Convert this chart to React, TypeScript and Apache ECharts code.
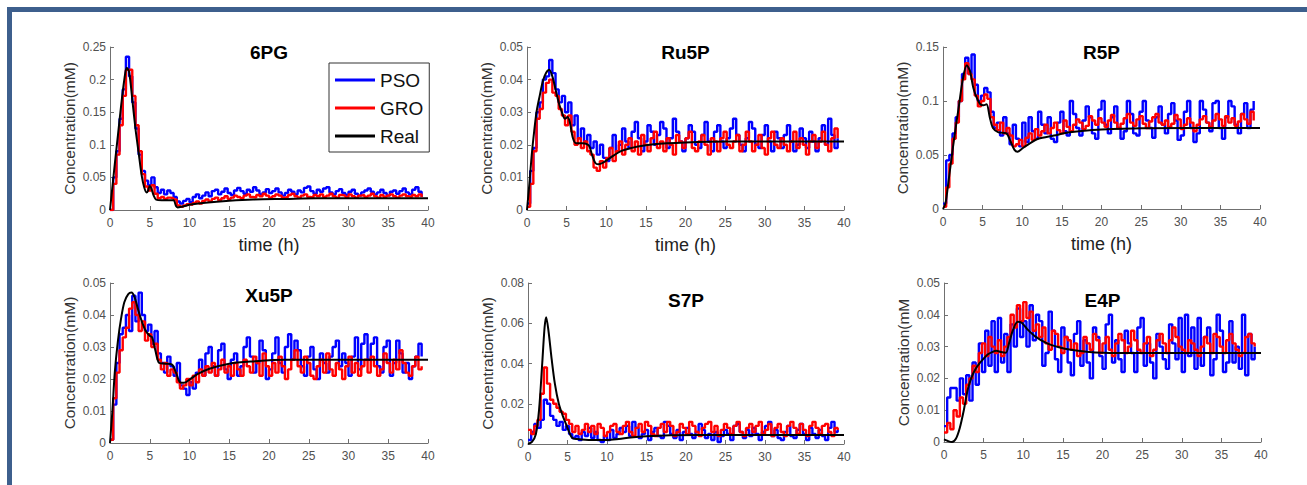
import React, { useEffect, useRef } from "react";
import * as echarts from "echarts";

const T = [0,0.4,0.8,1.2,1.6,2,2.4,2.8,3.2,3.6,4,4.4,4.8,5.2,5.6,6,6.4,6.8,7.2,7.6,8,8.4,8.8,9.2,9.6,10,10.4,10.8,11.2,11.6,12,12.4,12.8,13.2,13.6,14,14.4,14.8,15.2,15.6,16,16.4,16.8,17.2,17.6,18,18.4,18.8,19.2,19.6,20,20.4,20.8,21.2,21.6,22,22.4,22.8,23.2,23.6,24,24.4,24.8,25.2,25.6,26,26.4,26.8,27.2,27.6,28,28.4,28.8,29.2,29.6,30,30.4,30.8,31.2,31.6,32,32.4,32.8,33.2,33.6,34,34.4,34.8,35.2,35.6,36,36.4,36.8,37.2,37.6,38,38.4,38.8,39.2];

const SERIES_NAMES = ["PSO", "GRO", "Real"];
const X_TICKS = { min: 0, max: 40, step: 5 };

// ---- 6PG ----
const PSO_6PG = [
  0,0.05,0.09,0.14,0.185,0.235,0.205,0.165,0.125,0.085,
  0.06,0.045,0.038,0.05,0.035,0.026,0.031,0.024,0.03,0.026,
  0.02,0.013,0.01,0.014,0.017,0.012,0.02,0.024,0.018,0.022,
  0.027,0.021,0.029,0.031,0.024,0.028,0.033,0.026,0.023,0.03,
  0.034,0.029,0.025,0.031,0.028,0.035,0.03,0.024,0.027,0.032,
  0.026,0.029,0.033,0.027,0.022,0.026,0.031,0.028,0.024,0.03,
  0.027,0.034,0.036,0.029,0.025,0.031,0.028,0.033,0.035,0.027,
  0.024,0.029,0.032,0.026,0.023,0.028,0.031,0.025,0.022,0.027,
  0.03,0.033,0.028,0.024,0.027,0.031,0.026,0.022,0.028,0.03,
  0.025,0.029,0.033,0.027,0.024,0.031,0.035,0.028,0.02];
const GRO_6PG = [
  0,0.04,0.085,0.13,0.175,0.215,0.215,0.175,0.13,0.09,
  0.055,0.036,0.03,0.038,0.025,0.018,0.02,0.017,0.019,0.018,
  0.016,0.007,0.005,0.007,0.009,0.008,0.011,0.013,0.01,0.014,
  0.016,0.013,0.017,0.019,0.015,0.018,0.021,0.017,0.019,0.022,
  0.02,0.018,0.022,0.024,0.02,0.019,0.023,0.021,0.025,0.022,
  0.019,0.021,0.024,0.022,0.019,0.02,0.023,0.025,0.021,0.019,
  0.022,0.024,0.02,0.019,0.023,0.021,0.024,0.02,0.022,0.025,
  0.021,0.019,0.023,0.022,0.02,0.024,0.021,0.019,0.022,0.023,
  0.02,0.022,0.025,0.021,0.019,0.023,0.02,0.022,0.024,0.021,
  0.019,0.022,0.024,0.021,0.02,0.023,0.021,0.024,0.02];
const REAL_6PG = [[0,0],[0.3,0.035],[0.6,0.07],[1,0.115],[1.4,0.16],[1.8,0.2],[2.1,0.218],[2.4,0.212],[2.8,0.17],[3.2,0.125],[3.6,0.088],[4,0.052],[4.3,0.035],[4.6,0.027],[4.8,0.03],[5,0.037],[5.2,0.033],[5.5,0.022],[5.8,0.016],[6.5,0.015],[7.5,0.015],[8,0.015],[8.3,0.006],[8.5,0.004],[9,0.005],[10,0.008],[12,0.011],[15,0.014],[18,0.016],[22,0.017],[26,0.018],[40,0.018]];

// ---- Ru5P ----
const PSO_RU5P = [
  0.002,0.012,0.019,0.03,0.033,0.04,0.041,0.046,0.042,0.037,
  0.033,0.035,0.03,0.033,0.026,0.029,0.022,0.025,0.021,0.023,
  0.019,0.021,0.017,0.02,0.016,0.015,0.019,0.023,0.018,0.02,
  0.025,0.021,0.019,0.024,0.027,0.022,0.018,0.021,0.026,0.024,
  0.02,0.023,0.027,0.025,0.019,0.022,0.028,0.024,0.021,0.018,
  0.022,0.026,0.024,0.02,0.019,0.023,0.027,0.021,0.018,0.024,
  0.026,0.021,0.019,0.022,0.025,0.028,0.023,0.02,0.018,0.022,
  0.027,0.025,0.02,0.019,0.023,0.026,0.021,0.018,0.024,0.022,
  0.019,0.023,0.026,0.021,0.018,0.02,0.025,0.022,0.019,0.024,
  0.021,0.018,0.022,0.026,0.02,0.028,0.023,0.019,0.022];
const GRO_RU5P = [
  0.001,0.008,0.018,0.028,0.031,0.036,0.039,0.04,0.036,0.035,
  0.031,0.029,0.026,0.029,0.024,0.02,0.022,0.019,0.021,0.018,
  0.017,0.013,0.012,0.015,0.013,0.016,0.019,0.015,0.018,0.021,
  0.017,0.02,0.022,0.018,0.021,0.017,0.023,0.02,0.018,0.022,
  0.024,0.019,0.021,0.018,0.022,0.02,0.017,0.023,0.021,0.019,
  0.022,0.024,0.019,0.018,0.021,0.023,0.02,0.017,0.022,0.021,
  0.018,0.022,0.024,0.02,0.019,0.021,0.023,0.018,0.02,0.024,
  0.021,0.018,0.02,0.023,0.019,0.017,0.022,0.024,0.02,0.019,
  0.022,0.02,0.018,0.021,0.024,0.019,0.022,0.02,0.017,0.021,
  0.023,0.019,0.021,0.024,0.02,0.018,0.022,0.025,0.022];
const REAL_RU5P = [[0,0],[0.3,0.008],[0.6,0.017],[0.9,0.024],[1.2,0.03],[1.6,0.035],[2,0.0395],[2.4,0.042],[2.8,0.043],[3.2,0.041],[3.6,0.037],[4,0.033],[4.4,0.03],[4.8,0.028],[5.1,0.0285],[5.4,0.027],[5.8,0.022],[6.2,0.0205],[7,0.0205],[7.8,0.0198],[8.2,0.017],[8.6,0.0145],[9,0.014],[9.6,0.0145],[10.5,0.016],[12,0.0182],[14,0.0195],[16,0.0202],[20,0.0207],[25,0.021],[40,0.021]];

// ---- R5P ----
const PSO_R5P = [
  0.005,0.045,0.05,0.07,0.085,0.1,0.125,0.14,0.125,0.143,
  0.115,0.1,0.105,0.112,0.108,0.09,0.075,0.08,0.068,0.085,
  0.07,0.06,0.078,0.065,0.058,0.08,0.062,0.085,0.072,0.065,
  0.09,0.078,0.07,0.085,0.065,0.062,0.08,0.09,0.072,0.068,
  0.1,0.088,0.075,0.068,0.082,0.095,0.085,0.07,0.065,0.092,
  0.1,0.078,0.07,0.085,0.095,0.075,0.065,0.072,0.1,0.088,
  0.07,0.068,0.09,0.1,0.082,0.075,0.066,0.085,0.095,0.078,
  0.07,0.088,0.098,0.082,0.064,0.068,0.09,0.1,0.075,0.062,
  0.07,0.1,0.092,0.08,0.072,0.098,0.1,0.075,0.065,0.085,
  0.1,0.095,0.078,0.07,0.088,0.098,0.075,0.092,0.1];
const GRO_R5P = [
  0.002,0.02,0.042,0.065,0.08,0.1,0.12,0.135,0.125,0.12,
  0.105,0.095,0.1,0.106,0.102,0.085,0.078,0.073,0.08,0.07,
  0.075,0.068,0.058,0.06,0.064,0.058,0.066,0.07,0.064,0.074,
  0.068,0.072,0.078,0.07,0.075,0.08,0.073,0.07,0.082,0.076,
  0.072,0.078,0.083,0.08,0.074,0.077,0.086,0.082,0.078,0.084,
  0.08,0.076,0.082,0.087,0.08,0.075,0.079,0.084,0.088,0.08,
  0.077,0.083,0.086,0.079,0.075,0.081,0.085,0.088,0.08,0.078,
  0.082,0.076,0.079,0.087,0.083,0.074,0.078,0.084,0.08,0.072,
  0.078,0.083,0.086,0.08,0.076,0.082,0.088,0.083,0.077,0.086,
  0.08,0.084,0.077,0.081,0.088,0.083,0.079,0.09,0.082];
const REAL_R5P = [[0,0],[0.3,0.005],[0.6,0.02],[1,0.043],[1.5,0.07],[2,0.095],[2.5,0.12],[3,0.133],[3.4,0.128],[3.8,0.113],[4.2,0.104],[4.7,0.097],[5.1,0.096],[5.5,0.097],[5.9,0.085],[6.3,0.075],[7,0.071],[8,0.07],[8.5,0.063],[9,0.055],[9.4,0.053],[10,0.056],[11,0.061],[12,0.065],[14,0.068],[16,0.071],[20,0.0735],[25,0.0748],[40,0.075]];

// ---- Xu5P ----
const PSO_XU5P = [
  0.001,0.012,0.025,0.034,0.036,0.04,0.035,0.046,0.038,0.047,
  0.04,0.035,0.037,0.031,0.035,0.028,0.025,0.022,0.027,0.024,
  0.021,0.025,0.018,0.017,0.015,0.019,0.017,0.022,0.026,0.021,
  0.028,0.03,0.024,0.021,0.029,0.031,0.023,0.02,0.026,0.028,
  0.021,0.024,0.03,0.033,0.027,0.022,0.025,0.032,0.029,0.02,
  0.023,0.028,0.033,0.025,0.022,0.03,0.034,0.026,0.032,0.029,
  0.024,0.021,0.027,0.03,0.023,0.02,0.028,0.025,0.022,0.027,
  0.03,0.032,0.024,0.028,0.025,0.021,0.027,0.033,0.023,0.031,
  0.034,0.026,0.031,0.033,0.024,0.022,0.03,0.032,0.021,0.025,
  0.032,0.028,0.022,0.025,0.02,0.024,0.027,0.031,0.027];
const GRO_XU5P = [
  0.001,0.014,0.022,0.029,0.033,0.036,0.042,0.044,0.04,0.035,
  0.038,0.032,0.034,0.03,0.031,0.026,0.023,0.025,0.021,0.023,
  0.022,0.019,0.017,0.018,0.02,0.018,0.021,0.019,0.023,0.021,
  0.024,0.022,0.025,0.021,0.023,0.026,0.022,0.024,0.021,0.025,
  0.023,0.021,0.026,0.024,0.022,0.027,0.025,0.021,0.028,0.024,
  0.021,0.025,0.022,0.027,0.024,0.02,0.023,0.026,0.029,0.024,
  0.022,0.027,0.025,0.021,0.02,0.024,0.026,0.022,0.028,0.023,
  0.021,0.025,0.023,0.02,0.024,0.027,0.022,0.025,0.021,0.024,
  0.026,0.022,0.027,0.024,0.021,0.023,0.028,0.025,0.022,0.026,
  0.023,0.029,0.025,0.022,0.021,0.024,0.027,0.023,0.024];
const REAL_XU5P = [[0,0],[0.3,0.01],[0.6,0.022],[1,0.032],[1.4,0.039],[1.8,0.044],[2.3,0.0465],[2.7,0.047],[3.1,0.0455],[3.5,0.042],[4,0.038],[4.5,0.035],[5,0.0335],[5.3,0.033],[5.7,0.029],[6.2,0.025],[7,0.0248],[7.8,0.0245],[8.3,0.022],[8.8,0.019],[9.3,0.0188],[10,0.0198],[11,0.0215],[12.5,0.0232],[15,0.0248],[18,0.0255],[22,0.026],[40,0.026]];

// ---- S7P ----
const PSO_S7P = [
  0.002,0.006,0.01,0.008,0.012,0.022,0.02,0.014,0.012,0.009,
  0.011,0.007,0.009,0.005,0.003,0.004,0.002,0.006,0.004,0.008,
  0.003,0.006,0.002,0.001,0.004,0.002,0.007,0.003,0.005,0.008,
  0.006,0.009,0.004,0.011,0.008,0.003,0.005,0.007,0.002,0.006,
  0.008,0.004,0.003,0.011,0.009,0.005,0.003,0.007,0.002,0.006,
  0.008,0.005,0.003,0.006,0.01,0.007,0.003,0.005,0.002,0.006,
  0.001,0.004,0.007,0.005,0.002,0.009,0.01,0.006,0.003,0.007,
  0.004,0.008,0.005,0.002,0.006,0.009,0.011,0.004,0.007,0.003,
  0.002,0.006,0.009,0.004,0.003,0.007,0.01,0.005,0.002,0.008,
  0.005,0.003,0.007,0.004,0.002,0.008,0.011,0.006,0.007];
const GRO_S7P = [
  0.007,0.005,0.009,0.012,0.025,0.038,0.03,0.022,0.02,0.018,
  0.016,0.015,0.012,0.01,0.006,0.009,0.005,0.007,0.01,0.006,
  0.009,0.005,0.01,0.008,0.004,0.006,0.009,0.01,0.006,0.005,
  0.009,0.011,0.006,0.004,0.008,0.01,0.006,0.011,0.009,0.005,
  0.004,0.008,0.01,0.006,0.011,0.009,0.004,0.006,0.01,0.008,
  0.005,0.011,0.009,0.006,0.004,0.008,0.01,0.011,0.006,0.009,
  0.004,0.007,0.01,0.008,0.005,0.009,0.011,0.006,0.004,0.008,
  0.01,0.006,0.009,0.011,0.005,0.007,0.01,0.004,0.008,0.01,
  0.006,0.004,0.009,0.011,0.008,0.005,0.01,0.007,0.004,0.009,
  0.011,0.008,0.005,0.009,0.01,0.006,0.004,0.008,0.007];
const REAL_S7P = [[0,0],[0.5,0.001],[1,0.005],[1.4,0.017],[1.8,0.04],[2.1,0.058],[2.3,0.063],[2.6,0.056],[3,0.042],[3.4,0.03],[3.9,0.02],[4.4,0.014],[4.8,0.01],[5.2,0.006],[5.6,0.003],[6.2,0.0025],[8,0.002],[10,0.002],[11.5,0.0025],[13,0.0032],[15,0.0038],[18,0.0043],[22,0.0045],[40,0.0045]];

// ---- E4P ----
const PSO_E4P = [
  0.005,0.014,0.017,0.017,0.013,0.02,0.015,0.021,0.013,0.025,
  0.018,0.031,0.022,0.035,0.024,0.038,0.022,0.039,0.025,0.034,
  0.022,0.037,0.03,0.042,0.033,0.038,0.03,0.043,0.032,0.04,
  0.038,0.024,0.028,0.041,0.035,0.026,0.022,0.036,0.033,0.025,
  0.021,0.034,0.038,0.024,0.032,0.025,0.02,0.036,0.033,0.027,
  0.023,0.037,0.04,0.025,0.032,0.026,0.022,0.035,0.031,0.028,
  0.022,0.036,0.039,0.024,0.031,0.025,0.02,0.034,0.03,0.026,
  0.023,0.037,0.031,0.026,0.039,0.022,0.04,0.027,0.036,0.023,
  0.039,0.024,0.033,0.036,0.021,0.026,0.04,0.035,0.022,0.025,
  0.038,0.025,0.03,0.023,0.04,0.021,0.034,0.026,0.03];
const GRO_E4P = [
  0.003,0.006,0.004,0.01,0.008,0.014,0.012,0.018,0.02,0.024,
  0.022,0.028,0.031,0.027,0.033,0.03,0.028,0.032,0.027,0.03,
  0.033,0.04,0.036,0.043,0.038,0.044,0.039,0.041,0.035,0.037,
  0.033,0.036,0.031,0.029,0.035,0.034,0.03,0.028,0.033,0.032,
  0.029,0.031,0.027,0.028,0.033,0.031,0.029,0.034,0.032,0.028,
  0.031,0.033,0.029,0.027,0.031,0.034,0.032,0.028,0.03,0.035,
  0.032,0.029,0.028,0.031,0.033,0.027,0.029,0.032,0.034,0.031,
  0.028,0.032,0.036,0.033,0.03,0.029,0.028,0.032,0.031,0.029,
  0.027,0.03,0.033,0.031,0.028,0.034,0.033,0.03,0.028,0.032,
  0.034,0.031,0.029,0.027,0.028,0.033,0.034,0.031,0.03];
const REAL_E4P = [[0,0.0008],[0.5,0.0003],[1,0],[1.5,0.001],[2,0.0045],[2.5,0.01],[3,0.0165],[3.5,0.0205],[4,0.023],[4.5,0.0248],[5,0.0262],[5.5,0.0275],[6,0.0282],[6.6,0.0287],[7.2,0.0283],[7.8,0.0281],[8.2,0.031],[8.7,0.0352],[9.3,0.0378],[9.8,0.0375],[10.5,0.0355],[11.5,0.0332],[13,0.031],[14.5,0.0298],[16,0.029],[18,0.0284],[20,0.0281],[25,0.028],[40,0.028]];

const TITLES = ["6PG", "Ru5P", "R5P", "Xu5P", "S7P", "E4P"];
const Y_MAX = [0.25, 0.05, 0.15, 0.05, 0.08, 0.05];
const Y_STEP = [0.05, 0.01, 0.05, 0.01, 0.02, 0.01];
const Y_NAMES = ["Concentration(mM)", "Concentration(mM)", "Concentration(mM)", "Concentration(mM)", "Concentration(mM)", "Concentration(mM"];
const X_NAMES = ["time (h)", "time (h)", "time (h)", "", "", ""];
const PSO_DATA = [PSO_6PG, PSO_RU5P, PSO_R5P, PSO_XU5P, PSO_S7P, PSO_E4P];
const GRO_DATA = [GRO_6PG, GRO_RU5P, GRO_R5P, GRO_XU5P, GRO_S7P, GRO_E4P];
const REAL_DATA = [REAL_6PG, REAL_RU5P, REAL_R5P, REAL_XU5P, REAL_S7P, REAL_E4P];

// layout
const GRIDS = [
  { left: 110, top: 47, width: 318, height: 163 },
  { left: 527, top: 47, width: 317, height: 163 },
  { left: 943, top: 47, width: 317, height: 162 },
  { left: 110, top: 283, width: 318, height: 160 },
  { left: 528, top: 283, width: 316, height: 161 },
  { left: 944, top: 283, width: 317, height: 159 },
];
const TITLE_Y = [52, 52, 52, 295, 300, 300];
const FONT = "'Liberation Sans', Arial, Helvetica, sans-serif";
const COLORS = ["#0000ff", "#ff0000", "#000000"];
const AXIS_COLOR = "#707070";

export default function App() {
  const ref = useRef<HTMLDivElement>(null);
  useEffect(() => {
    if (!ref.current) return;
    const chart = echarts.init(ref.current, undefined, { renderer: "svg" });
    const xAxis: any[] = [];
    const yAxis: any[] = [];
    const series: any[] = [];
    const graphic: any[] = [
      { type: "rect", shape: { x: 7, y: 7, width: 1300, height: 5 }, style: { fill: "#3d5f8d" }, silent: true },
      { type: "rect", shape: { x: 7, y: 7, width: 5, height: 478 }, style: { fill: "#3d5f8d" }, silent: true },
    ];
    GRIDS.forEach((g, i) => {
      xAxis.push({
        type: "value", gridIndex: i, min: X_TICKS.min, max: X_TICKS.max, interval: X_TICKS.step,
        axisLine: { show: true, lineStyle: { color: AXIS_COLOR, width: 1 } },
        axisTick: { show: true, inside: true, length: 4, lineStyle: { color: AXIS_COLOR } },
        splitLine: { show: false },
        axisLabel: { fontSize: 12, color: "#505050", margin: 7, fontFamily: FONT },
        name: X_NAMES[i], nameLocation: "middle", nameGap: 26,
        nameTextStyle: { fontSize: 18, color: "#222", fontFamily: FONT },
      });
      yAxis.push({
        type: "value", gridIndex: i, min: 0, max: Y_MAX[i], interval: Y_STEP[i],
        axisLine: { show: true, lineStyle: { color: AXIS_COLOR, width: 1 } },
        axisTick: { show: true, inside: true, length: 4, lineStyle: { color: AXIS_COLOR } },
        splitLine: { show: false },
        axisLabel: { fontSize: 12, color: "#505050", margin: 4, fontFamily: FONT },
        name: Y_NAMES[i], nameLocation: "middle", nameGap: 33,
        nameTextStyle: { fontSize: 15.5, color: "#333", fontFamily: FONT },
      });
      const base = { type: "line", xAxisIndex: i, yAxisIndex: i, symbol: "none", silent: true };
      series.push({ ...base, name: SERIES_NAMES[0], step: "end", data: T.map((t, k) => [t, PSO_DATA[i][k]]), lineStyle: { color: COLORS[0], width: 2.4 }, itemStyle: { color: COLORS[0] } });
      series.push({ ...base, name: SERIES_NAMES[1], step: "end", data: T.map((t, k) => [t, GRO_DATA[i][k]]), lineStyle: { color: COLORS[1], width: 2.4 }, itemStyle: { color: COLORS[1] } });
      series.push({ ...base, name: SERIES_NAMES[2], smooth: 0.3, data: REAL_DATA[i], lineStyle: { color: COLORS[2], width: 2 }, itemStyle: { color: COLORS[2] } });
      graphic.push({
        type: "text", x: g.left + g.width / 2, y: TITLE_Y[i],
        style: { text: TITLES[i], fill: "#000", font: `bold 19px ${FONT}`, textAlign: "center", textVerticalAlign: "middle" },
        silent: true,
      });
    });
    chart.setOption({
      animation: false,
      backgroundColor: "#ffffff",
      grid: GRIDS.map((g) => ({ ...g, containLabel: false })),
      xAxis, yAxis, series, graphic,
      legend: {
        data: SERIES_NAMES, left: 329, top: 63, orient: "vertical",
        borderColor: "#333", borderWidth: 1, padding: [6, 6, 5, 6], itemGap: 6,
        icon: "rect", itemWidth: 40, itemHeight: 3,
        textStyle: { fontSize: 19, lineHeight: 22, color: "#111", fontFamily: FONT },
        selectedMode: false,
      },
    });
    return () => chart.dispose();
  }, []);
  return <div ref={ref} style={{ position: "fixed", left: 0, top: 0, width: 1307, height: 485 }} />;
}
